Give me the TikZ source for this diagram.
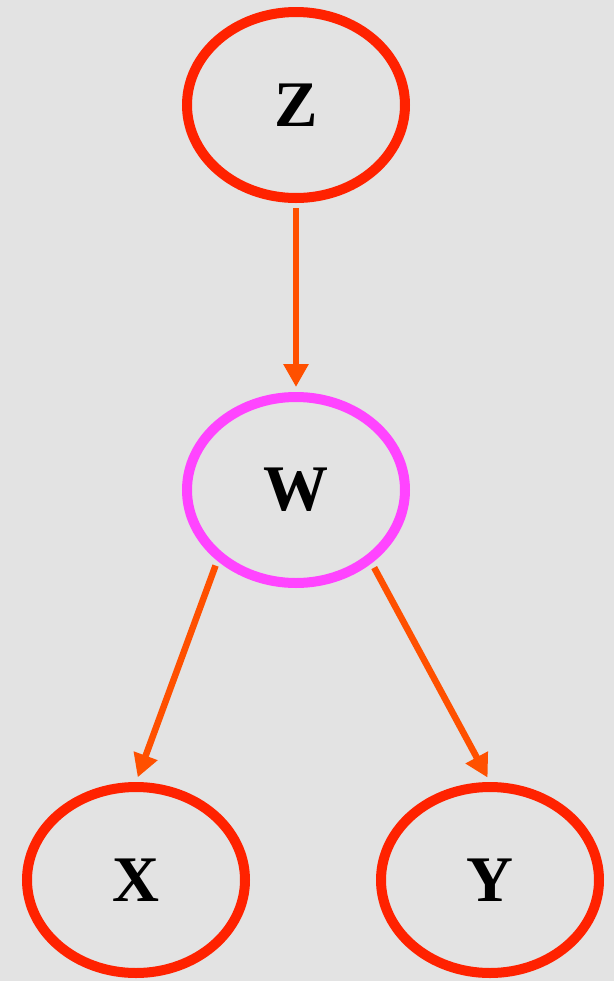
\documentclass[tikz,border=0pt]{standalone}
\usepackage{fontspec}
\setmainfont{Liberation Serif}
\usetikzlibrary{arrows.meta,shapes.geometric}
\definecolor{bgpanel}{HTML}{E3E3E3}
\definecolor{nodered}{HTML}{FF2200}
\definecolor{nodepink}{HTML}{FF44FF}
\definecolor{linkorange}{HTML}{FF5000}

\begin{document}
\begin{tikzpicture}[
  font=\fontsize{18.5}{20}\selectfont\bfseries,
  varnode/.style={draw=nodered,ellipse,line width=0.1cm,minimum width=2.18cm,minimum height=1.86cm,inner sep=0pt},
  link/.style={-{Triangle[width=0.24cm,length=0.23cm]},linkorange,line width=0.065cm,shorten <=0.05cm,shorten >=0.05cm}
]
  \fill[bgpanel] (0,0) rectangle (6.14,-9.81);
  \useasboundingbox (0,0) rectangle (6.14,-9.81);

  \node[varnode] (z) at (2.96,-1.05) {Z};
  \node[varnode,draw=nodepink] (w) at (2.96,-4.90) {W};
  \node[varnode] (x) at (1.36,-8.80) {X};
  \node[varnode] (y) at (4.90,-8.80) {Y};

  \draw[link] (z.south) -- (w.north);
  \draw[link] (w.222) -- (x.north);
  \draw[link] (w.316) -- (y.north);
\end{tikzpicture}
\end{document}
